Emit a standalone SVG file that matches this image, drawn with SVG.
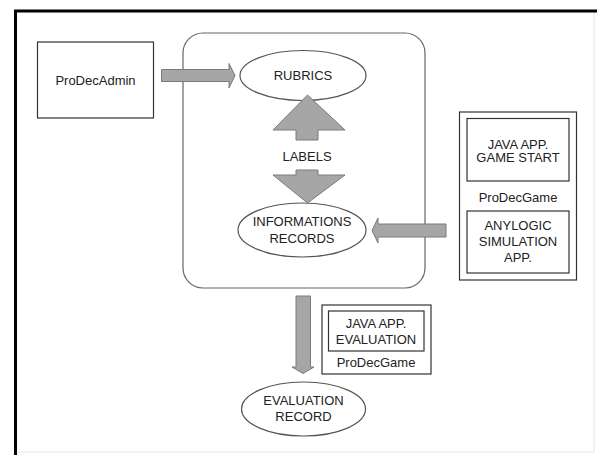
<svg xmlns="http://www.w3.org/2000/svg" width="597" height="455" viewBox="0 0 597 455">
<defs>
<style>
text{font-family:"Liberation Sans",Arial,sans-serif;font-size:13px;fill:#222;text-anchor:middle}
.box{fill:#fff;stroke:#333;stroke-width:1.2}
.ell{fill:#fff;stroke:#555;stroke-width:1.2}
.arr{fill:#a6a6a6;stroke:#7a7a7a;stroke-width:1}
</style>
</defs>
<rect x="0" y="0" width="597" height="455" fill="#fff"/>
<g id="frame">
<line x1="594" y1="12" x2="594" y2="452" stroke="#e6e6e6" stroke-width="1"/>
<line x1="16" y1="452" x2="594" y2="452" stroke="#e6e6e6" stroke-width="1"/>
<line x1="14" y1="11" x2="597" y2="11" stroke="#000" stroke-width="3"/>
<line x1="15.5" y1="10" x2="15.5" y2="455" stroke="#000" stroke-width="3"/>
</g>
<g id="container">
<rect x="183" y="33" width="242" height="255" rx="20" ry="20" fill="none" stroke="#666" stroke-width="1.2"/>
</g>
<g id="prodecadmin">
<rect class="box" x="37.5" y="42" width="116" height="76"/>
<text x="95.5" y="84.5">ProDecAdmin</text>
</g>
<g id="rubrics">
<ellipse class="ell" cx="303" cy="75.5" rx="63" ry="25"/>
<text x="303" y="80">RUBRICS</text>
</g>
<g id="informations">
<ellipse class="ell" cx="302" cy="230" rx="64" ry="27"/>
<text x="302" y="226">INFORMATIONS</text>
<text x="302" y="242.5">RECORDS</text>
</g>
<g id="prodecgame-top">
<rect class="box" x="459.5" y="112" width="117" height="168"/>
<rect class="box" x="467" y="118.5" width="102" height="62.5"/>
<text x="518" y="148.5">JAVA APP.</text>
<text x="518" y="162">GAME START</text>
<text x="518" y="201.5">ProDecGame</text>
<rect class="box" x="467" y="211" width="102" height="62"/>
<text x="518" y="229.5">ANYLOGIC</text>
<text x="518" y="246">SIMULATION</text>
<text x="518" y="262">APP.</text>
</g>
<g id="prodecgame-eval">
<rect class="box" x="322" y="305" width="109" height="69"/>
<rect class="box" x="328.5" y="311" width="95.5" height="40"/>
<text x="376" y="327.5">JAVA APP.</text>
<text x="376" y="343.5">EVALUATION</text>
<text x="376" y="367">ProDecGame</text>
</g>
<g id="evaluation-record">
<ellipse class="ell" cx="303.5" cy="409" rx="62" ry="27"/>
<text x="303.5" y="404.5">EVALUATION</text>
<text x="303.5" y="420.5">RECORD</text>
</g>
<g id="connectors">
<path class="arr" d="M161.5,69.5 H229 V63.5 L235,75.5 L229,88 V81.5 H161.5 Z"/>
<path class="arr" d="M446,224 H378 V218 L372,230.5 L378,243 V237 H446 Z"/>
<path class="arr" d="M296,296 H310.5 V367 H314 L303,373.5 L292,367 H296 Z"/>
<path class="arr" d="M307.5,95 L345,130 H318 V140 H296 V130 H273 Z"/>
<path class="arr" d="M296,170 H318 V175 H345 L307.5,203 L273,175 H296 Z"/>
<text x="307" y="160.5">LABELS</text>
</g>
</svg>
